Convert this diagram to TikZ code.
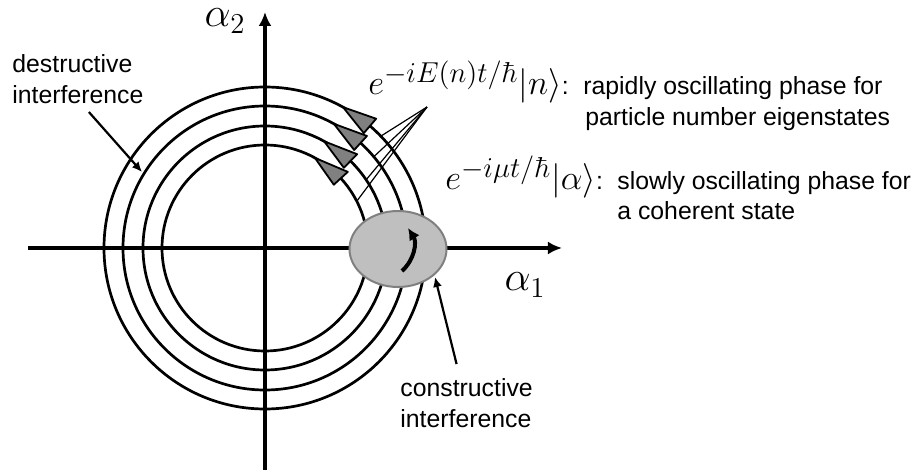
\documentclass[tikz,border=0pt]{standalone}
\usepackage[no-math]{fontspec}
\setmainfont{Liberation Sans}
\usepackage{amsmath}
\usepackage{tikz}
\usetikzlibrary{shapes.geometric, arrows.meta, positioning}
\DeclareMathSizes{18}{18}{14.5}{11}

\begin{document}
\begin{tikzpicture}[
  x=0.5pt, y=0.5pt,
  axis/.style={line width=2.1pt, -{Latex[length=7pt,width=6.5pt]}},
  orbit/.style={line width=1.35pt},
  phasetip/.style={draw=black, fill=gray, line width=0.9pt, line join=round},
  packet/.style={ellipse, draw=gray, fill=gray!50, line width=1pt,
                 minimum width=48.5pt, minimum height=38pt, inner sep=0pt},
  ptr/.style={-{Latex[length=5pt,width=4.5pt]}, line width=1.1pt},
  fan/.style={line width=0.6pt},
  lbl/.style={inner sep=0pt, font=\fontsize{12.4}{15.5}\selectfont},
  eqlbl/.style={inner sep=0pt, font=\fontsize{18}{20}\selectfont},
  axlbl/.style={inner sep=0pt, font=\fontsize{20}{22}\selectfont}
]
\useasboundingbox (-265,-223) rectangle (658,248);

% phase space axes
\coordinate (O) at (0,0);
\coordinate (xend) at (297,0);
\coordinate (xbeg) at (-237,0);
\coordinate (yend) at (0,236);
\coordinate (ybeg) at (0,-222);

% orbits of the number states
\foreach \r in {103,122,142,161}
  \draw[orbit] (O) circle[radius=\r];

\draw[axis] (xbeg) -- (xend);
\draw[axis] (ybeg) -- (yend);

% rotating phases
\foreach \r/\b in {103/42.6,122/45.5,142/47.7,161/49.3}
  \draw[phasetip] (61:\r) -- ({\b}:{\r+9.5}) -- ({\b}:{\r-9.5}) -- cycle;

% coherent state
\node[packet] (coh) at (133,-1) {};
\coordinate (sbot) at (137,-23);
\coordinate (stop) at (143,20);
\draw[line width=2pt, -{Latex[length=6pt,width=6pt]}] (sbot) to[bend right=40] (stop);

% axis labels
\node[axlbl, anchor=base east] (a2) at (-19,221) {$\alpha_2$};
\node[axlbl] (a1) at (260,-37) {$\alpha_1$};

% labels
\node[eqlbl, anchor=base west] (eqn) at (103,153)
  {$e^{-iE(n)t/\hbar}|n\rangle$\fontsize{12.4}{15.5}\selectfont:};
\node[lbl, anchor=base west] (rapid) at (318,153)
  {rapidly oscillating phase for};
\node[lbl, anchor=base west] (part) at (320,122)
  {particle number eigenstates};

\node[eqlbl, anchor=base west] (eqa) at (180,58)
  {$e^{-i\mu t/\hbar}|\alpha\rangle$\fontsize{12.4}{15.5}\selectfont:};
\node[lbl, anchor=base west] (slow) at (352,58)
  {slowly oscillating phase for};
\node[lbl, anchor=base west] (cohtxt) at (352,28) {a coherent state};

\node[lbl, anchor=north west, align=left] (destr) at (-253,194)
  {destructive\\interference};
\node[lbl, anchor=north west, align=left] (constr) at (135,-130)
  {constructive\\interference};

% pointers
\coordinate (dtip) at (-123,76);
\coordinate (ctip) at (170,-29);
\draw[ptr] ([xshift=5.5pt,yshift=-4pt]destr.south) -- (dtip);
\draw[ptr] ([xshift=-5pt,yshift=7pt]constr.north) -- (ctip);

\coordinate (conv) at (162,141);
\foreach \r/\a in {103/27,122/34,142/40,161/44}
  \draw[fan] (conv) -- (\a:\r);

\end{tikzpicture}
\end{document}
